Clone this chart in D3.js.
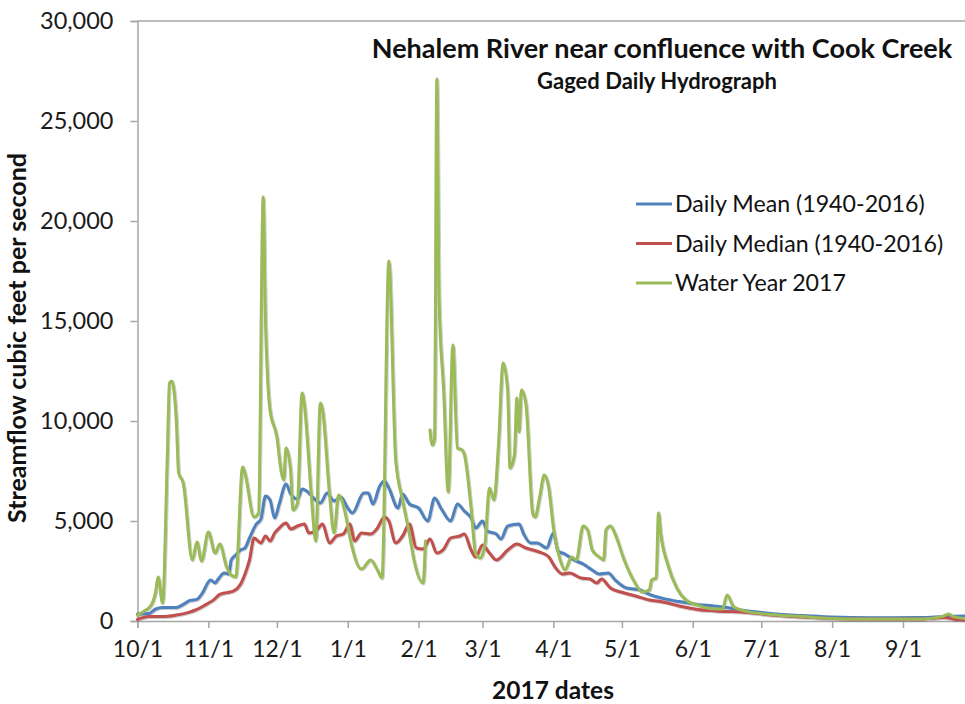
<!DOCTYPE html>
<html>
<head>
<meta charset="utf-8">
<script src="https://cdn.jsdelivr.net/npm/d3@7"></script>
<style>
  html, body { margin: 0; padding: 0; background: #fff; }
  svg { display: block; font-family: Lato, "Open Sans", sans-serif; }
</style>
</head>
<body>
<svg id="chart" width="965" height="704"></svg>
<script>
// Water year 2017 runs from Oct 1, 2016; days below are offsets from that date.
const waterYearStart = new Date(2016, 9, 1);

const meanDays = [0,5,8,11,14,17,20,23,26,28,32,34,35,38,40,41,43,45,47,49,52,54,56,58,60,62,65,67,70,72,74,77,80,83,86,89,92,94,99,101,103,106,108,110,114,116,119,123,127,130,133,137,140,143,146,148,151,153,157,159,162,167,169,172,175,179,182,184,187,191,195,199,202,206,209,214,220,224,230,237,245,252,258,264,277,291,303,321,343,354,364];
const meanValues = [350,380,600,670,670,670,830,1030,1080,1330,2050,1900,2050,2400,2350,3050,3300,3550,3650,4150,4850,5100,6250,6050,5150,5850,6850,6350,6100,6600,6500,6150,5900,6400,6000,6200,5650,5400,6400,6400,5850,6750,7000,6650,5650,6350,5850,5650,5000,6150,5600,5000,5850,5500,5150,4650,5000,4500,4350,4100,4750,4850,4350,3900,3900,3650,4400,3500,3350,3050,2850,2550,2350,2400,2050,1650,1550,1330,1130,970,830,750,670,550,380,270,200,160,170,230,250];

const medianDays = [0,5,11,17,22,26,30,33,36,39,42,45,48,49,51,54,56,58,60,62,65,67,70,73,75,78,81,84,87,90,93,95,98,102,105,108,110,113,116,119,122,125,128,131,134,137,141,143,146,148,151,154,157,162,166,170,173,177,180,183,186,189,194,198,201,203,207,213,218,224,230,237,245,253,264,277,291,303,321,343,353,358,364];
const medianValues = [80,220,220,300,420,580,830,1030,1330,1420,1500,1830,2670,3050,4150,3900,4250,4000,4400,4650,4900,4600,4750,4850,4400,4500,4850,3900,4250,4350,4850,4000,4400,4350,4650,5200,5000,3900,4250,4850,3650,3600,4100,3400,3600,4150,4250,4350,3550,3200,3800,3400,3050,3550,3850,3650,3550,3400,3200,2650,2350,2400,2150,2100,1900,2100,1650,1400,1250,1050,950,750,580,500,450,300,200,130,100,100,180,80,60];

// null marks the days with no gage record in early February
const wy2017Days = [0,3,6,8,9,11,13,14,15,17,18,20,24,26,28,31,34,36,39,41,43,46,47,51,53,55,56,57,58,61,63,64,65,67,68,70,72,73,76,78,80,81,84,86,88,91,93,98,102,105,107,110,113,116,119,121,125,126,127,128,129,130,131,132,134,136,138,140,142,143,146,148,150,152,154,156,158,160,162,163,165,166,167,168,170,173,174,176,178,180,182,185,187,190,192,195,197,199,202,204,205,207,209,213,217,221,224,225,227,228,229,232,236,240,245,249,254,256,258,261,267,277,291,303,321,343,352,355,357,362,364];
const wy2017Values = [300,500,800,1500,2200,900,8000,11900,12000,10000,7400,6900,3050,3950,3000,4450,3400,3850,2700,2300,2200,7700,7400,5200,5400,21200,15000,12000,10550,9200,7400,7050,8650,7550,5550,5900,11400,10850,6400,4000,10900,10550,6400,4400,6300,5350,4150,2600,3050,2550,2150,18000,8050,6050,4350,3050,1900,4000,null,9550,8800,9100,27100,16000,11500,6450,13800,8650,8550,8350,5650,3350,3150,3800,6650,6050,8850,12900,11550,7650,8350,11150,9450,11550,10850,5350,5200,6200,7300,6650,4700,3050,2550,3200,3050,4750,4550,3550,3200,3050,4550,4750,4350,3050,2050,1450,1550,2050,2150,5400,4350,2850,1650,1050,800,650,600,600,1300,700,470,330,220,130,100,100,220,350,220,130,120];

const seriesNames = ["Daily Mean (1940-2016)", "Daily Median (1940-2016)", "Water Year 2017"];
const seriesColors = ["#4F81BD", "#C0504D", "#9BBB59"];

const yTickValues = [0, 5000, 10000, 15000, 20000, 25000, 30000];
const xTickDates = d3.timeMonths(new Date(2016, 9, 1), new Date(2017, 8, 2));

const chartTitle = "Nehalem River near confluence with Cook Creek";
const chartSubtitle = "Gaged Daily Hydrograph";
const xAxisTitle = "2017 dates";
const yAxisTitle = "Streamflow cubic feet per second";

const svg = d3.select("#chart");
const W = 965, H = 704;
const plot = { left: 137.5, top: 21, bottom: 621 };
const pxPerDay = 2.285;

const x = d3.scaleTime()
  .domain([waterYearStart, d3.timeDay.offset(waterYearStart, 365)])
  .range([plot.left, plot.left + 365 * pxPerDay]);
const y = d3.scaleLinear().domain([0, 30000]).range([plot.bottom, plot.top]);

const toPoints = (days, values) => days.map((d, i) => ({
  date: d3.timeDay.offset(waterYearStart, d), value: values[i]
}));
const series = [
  toPoints(meanDays, meanValues),
  toPoints(medianDays, medianValues),
  toPoints(wy2017Days, wy2017Values)
];

const axisGray = "#A6A6A6";

// top frame line
svg.append("line")
  .attr("x1", plot.left).attr("x2", W)
  .attr("y1", plot.top).attr("y2", plot.top)
  .attr("stroke", axisGray).attr("stroke-width", 1.5);

// y axis
const yAxis = svg.append("g")
  .attr("transform", `translate(${plot.left},0)`)
  .call(d3.axisLeft(y).tickValues(yTickValues).tickSize(7).tickPadding(17)
    .tickFormat(d3.format(",")));
yAxis.select(".domain").attr("stroke", axisGray).attr("stroke-width", 1.5);
yAxis.selectAll(".tick line").attr("stroke", axisGray).attr("stroke-width", 1.5);
yAxis.selectAll(".tick text")
  .attr("fill", "#1a1a1a").attr("font-size", 23.5).attr("font-family", "Lato, sans-serif");

// x axis
const xAxis = svg.append("g")
  .attr("transform", `translate(0,${plot.bottom})`)
  .call(d3.axisBottom(x).tickValues(xTickDates).tickSize(7).tickPadding(13)
    .tickFormat(d3.timeFormat("%-m/%-d")));
xAxis.select(".domain").attr("stroke", axisGray).attr("stroke-width", 1.5);
xAxis.selectAll(".tick line").attr("stroke", axisGray).attr("stroke-width", 1.5);
xAxis.selectAll(".tick text")
  .attr("fill", "#1a1a1a").attr("font-size", 23).attr("font-family", "Lato, sans-serif");

// flow lines
const line = d3.line()
  .defined(d => d.value != null)
  .x(d => x(d.date))
  .y(d => y(d.value))
  .curve(d3.curveMonotoneX);

const defs = svg.append("defs");
defs.append("filter").attr("id", "soft")
  .attr("x", "-5%").attr("y", "-5%").attr("width", "110%").attr("height", "110%")
  .append("feDropShadow")
  .attr("dx", 0.6).attr("dy", 0.6).attr("stdDeviation", 0.6)
  .attr("flood-color", "#000").attr("flood-opacity", 0.35);

svg.append("g").attr("filter", "url(#soft)")
  .selectAll("path")
  .data(series)
  .join("path")
  .attr("d", line)
  .attr("fill", "none")
  .attr("stroke", (d, i) => seriesColors[i])
  .attr("stroke-width", 3)
  .attr("stroke-linejoin", "round")
  .attr("stroke-linecap", "round");

// titles
svg.append("text")
  .attr("x", 662).attr("y", 58)
  .attr("text-anchor", "middle")
  .attr("font-size", 27).attr("font-weight", "bold").attr("fill", "#111")
  .text(chartTitle);
svg.append("text")
  .attr("x", 657).attr("y", 89)
  .attr("text-anchor", "middle")
  .attr("font-size", 22).attr("font-weight", "bold").attr("fill", "#111")
  .text(chartSubtitle);

svg.append("text")
  .attr("x", 553).attr("y", 699)
  .attr("text-anchor", "middle")
  .attr("font-size", 24.5).attr("font-weight", "bold").attr("fill", "#111")
  .text(xAxisTitle);
svg.append("text")
  .attr("transform", "translate(26,338) rotate(-90)")
  .attr("text-anchor", "middle")
  .attr("font-size", 25).attr("font-weight", "bold").attr("fill", "#111")
  .text(yAxisTitle);

// legend
const legend = svg.append("g").attr("transform", "translate(636,204)");
const rows = legend.selectAll("g")
  .data(seriesNames)
  .join("g")
  .attr("transform", (d, i) => `translate(0,${i * 39.5})`);
rows.append("line")
  .attr("x1", 0).attr("x2", 36).attr("y1", 0).attr("y2", 0)
  .attr("stroke", (d, i) => seriesColors[i]).attr("stroke-width", 3);
rows.append("text")
  .attr("x", 39).attr("y", 0).attr("dy", "0.35em")
  .attr("font-size", 23.2).attr("fill", "#111")
  .text(d => d);
</script>
</body>
</html>
